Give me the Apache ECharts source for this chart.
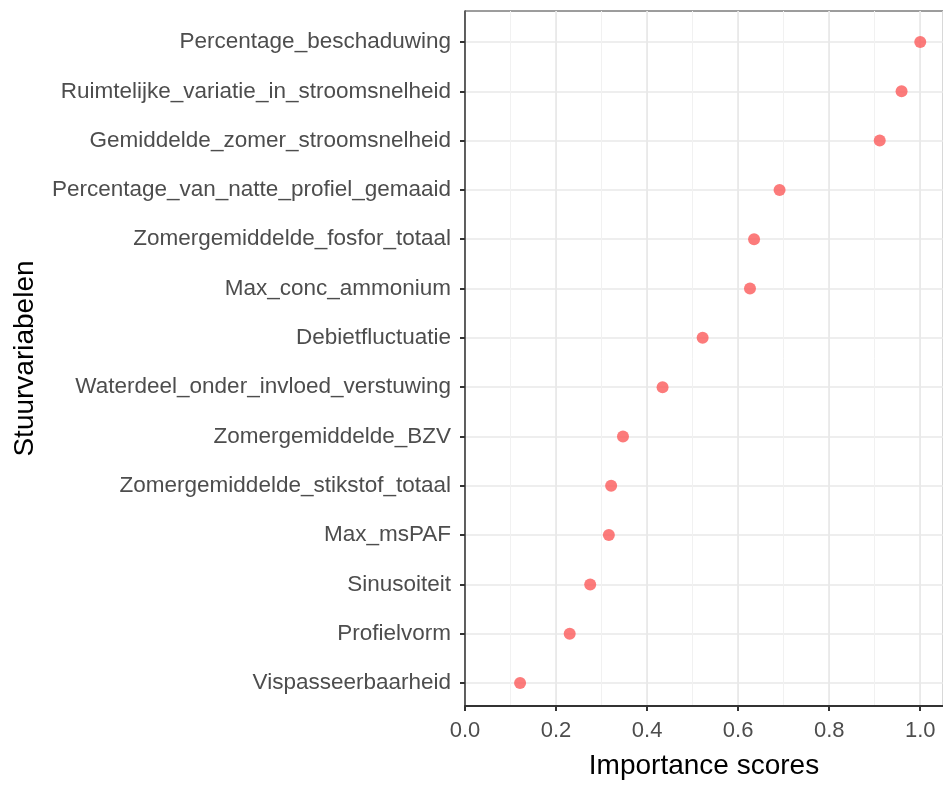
<!DOCTYPE html>
<html>
<head>
<meta charset="utf-8">
<title>Importance scores</title>
<script src="https://cdn.jsdelivr.net/npm/echarts@6/dist/echarts.min.js"></script>
<style>
  html, body { margin: 0; padding: 0; background: #fff; }
  #chart { width: 943px; height: 785px; }
</style>
</head>
<body>
<div id="chart"></div>
<script>
// variables, top to bottom
const variables = [
  'Percentage_beschaduwing',
  'Ruimtelijke_variatie_in_stroomsnelheid',
  'Gemiddelde_zomer_stroomsnelheid',
  'Percentage_van_natte_profiel_gemaaid',
  'Zomergemiddelde_fosfor_totaal',
  'Max_conc_ammonium',
  'Debietfluctuatie',
  'Waterdeel_onder_invloed_verstuwing',
  'Zomergemiddelde_BZV',
  'Zomergemiddelde_stikstof_totaal',
  'Max_msPAF',
  'Sinusoiteit',
  'Profielvorm',
  'Vispasseerbaarheid'
];
const scores = [1.0, 0.959, 0.911, 0.691, 0.635, 0.626, 0.522, 0.434, 0.347, 0.321, 0.316, 0.275, 0.230, 0.121];

const xMin = 0;
const xMax = 1.05;

const font = 'Liberation Sans, Arial, sans-serif';
const tickGray = '#4d4d4d';

let myChart = echarts.init(document.getElementById('chart'));

let option = {
  animation: false,
  backgroundColor: '#fff',
  grid: [
    // data grid: row centres
    { left: 465, right: 0, top: 42, bottom: 102 },
    // panel frame
    { left: 465, right: 0, top: 11, bottom: 73, show: true, borderColor: '#3a3a3a', borderWidth: 1, z: 0 }
  ],
  xAxis: [
    {
      gridIndex: 0, type: 'value', position: 'bottom', min: xMin, max: xMax,
      axisLine: { show: false }, axisTick: { show: false },
      axisLabel: { show: false }, splitLine: { show: false }
    },
    {
      // minor grid lines
      gridIndex: 1, type: 'value', position: 'bottom', min: xMin, max: xMax, interval: 0.1,
      axisLine: { show: false }, axisTick: { show: false },
      axisLabel: { show: false },
      splitLine: { lineStyle: { color: '#f1f1f1', width: 1 } }
    },
    {
      gridIndex: 1, type: 'value', position: 'bottom', min: xMin, max: xMax, interval: 0.2,
      name: 'Importance scores', nameLocation: 'middle', nameGap: 46,
      nameTextStyle: { fontFamily: font, fontSize: 28, color: '#000' },
      axisLine: { show: true, lineStyle: { color: '#333', width: 2 } },
      axisTick: { show: true, length: 5, lineStyle: { color: '#333', width: 2 } },
      axisLabel: {
        fontFamily: font, fontSize: 22, color: tickGray, margin: 14,
        showMaxLabel: false,
        formatter: v => (Math.abs(v * 5 - Math.round(v * 5)) < 1e-6 ? v.toFixed(1) : '')
      },
      splitLine: { lineStyle: { color: '#e8e8e8', width: 1.6 } }
    }
  ],
  yAxis: [
    {
      gridIndex: 0, type: 'category', data: variables, inverse: true, boundaryGap: false,
      axisLine: { show: false },
      axisTick: { show: true, length: 5, lineStyle: { color: '#333', width: 2 } },
      axisLabel: { fontFamily: font, fontSize: 22.5, color: tickGray, margin: 14 },
      splitLine: { show: true, lineStyle: { color: '#e8e8e8', width: 1.6 } }
    },
    {
      gridIndex: 1, type: 'value', min: 0, max: 1,
      name: 'Stuurvariabelen', nameLocation: 'middle', nameGap: 426,
      nameTextStyle: { fontFamily: font, fontSize: 28, color: '#000' },
      axisLine: { show: true, lineStyle: { color: '#333', width: 1.5 } },
      axisTick: { show: false }, axisLabel: { show: false }, splitLine: { show: false }
    }
  ],
  series: [
    {
      type: 'scatter',
      xAxisIndex: 0,
      yAxisIndex: 0,
      symbol: 'circle',
      symbolSize: 12,
      itemStyle: { color: '#fb5a5a' },
      data: scores.map((s, i) => [s, variables[i]]),
      z: 5
    }
  ]
};

myChart.setOption(option, true);
</script>
</body>
</html>
